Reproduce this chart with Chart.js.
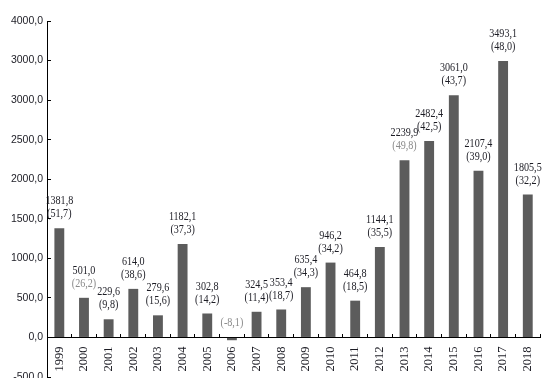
<!DOCTYPE html>
<html lang="es">
<head>
  <meta charset="UTF-8">
  <title>Serie anual</title>
  <script src="https://cdn.jsdelivr.net/npm/chart.js"></script>
  <style>
    html, body { margin: 0; padding: 0; background: #fff; }
    #wrap { width: 556px; height: 378px; }
  </style>
</head>
<body>
  <div id="wrap"><canvas id="myBarChart"></canvas></div>

  <script>
    const years = ['1999', '2000', '2001', '2002', '2003', '2004', '2005', '2006', '2007', '2008',
                   '2009', '2010', '2011', '2012', '2013', '2014', '2015', '2016', '2017', '2018'];
    const values = [1381.8, 501.0, 229.6, 614.0, 279.6, 1182.1, 302.8, -35, 324.5, 353.4,
                    635.4, 946.2, 464.8, 1144.1, 2239.9, 2482.4, 3061.0, 2107.4, 3493.1, 1805.5];
    const valueLabels = ['1381,8', '501,0', '229,6', '614,0', '279,6', '1182,1', '302,8', '', '324,5', '353,4',
                         '635,4', '946,2', '464,8', '1144,1', '2239,9', '2482,4', '3061,0', '2107,4', '3493,1', '1805,5'];
    const growthLabels = ['(51,7)', '(26,2)', '(9,8)', '(38,6)', '(15,6)', '(37,3)', '(14,2)', '(-8,1)', '(11,4)', '(18,7)',
                          '(34,3)', '(34,2)', '(18,5)', '(35,5)', '(49,8)', '(42,5)', '(43,7)', '(39,0)', '(48,0)', '(32,2)'];
    const growthGray = [false, true, false, false, false, false, false, true, false, false,
                        false, false, false, false, true, false, false, false, false, false];
    const yTickLabels = ['-500,0', '0,0', '500,0', '1000,0', '1500,0', '2000,0', '2500,0', '3000,0', '3000,0', '4000,0'];

    const darkText = '#1c1c24';
    const grayText = '#8a8a8a';

    // etiquetas de valor encima de cada barra (texto un poco estrecho)
    const barLabels = {
      id: 'barLabels',
      afterDatasetsDraw(chart) {
        const ctx = chart.ctx;
        const meta = chart.getDatasetMeta(0);
        const zero = chart.scales.y.getPixelForValue(0);
        ctx.save();
        ctx.font = '11.5px "Liberation Serif", serif';
        ctx.textAlign = 'center';
        ctx.textBaseline = 'middle';
        meta.data.forEach((bar, i) => {
          const top = values[i] >= 0 ? bar.y : zero;
          const draw = (txt, y, color) => {
            ctx.save();
            ctx.translate(bar.x, y);
            ctx.scale(0.88, 1);
            ctx.fillStyle = color;
            ctx.fillText(txt, 0, 0);
            ctx.restore();
          };
          draw(growthLabels[i], top - 14, growthGray[i] ? grayText : darkText);
          if (valueLabels[i]) draw(valueLabels[i], top - 27, darkText);
        });
        ctx.restore();
      }
    };

    const data = {
      labels: years,
      datasets: [{
        data: values,
        backgroundColor: '#5c5c5c',
        categoryPercentage: 1.0,
        barPercentage: 0.4
      }]
    };

    const config = {
      type: 'bar',
      data: data,
      options: {
        responsive: true,
        maintainAspectRatio: false,
        animation: false,
        layout: { padding: { top: 21, right: 9, bottom: 1, left: 0 } },
        plugins: {
          legend: { display: false },
          tooltip: { enabled: false }
        },
        scales: {
          x: {
            position: { y: 0 },
            afterFit(scale) { scale.height = 0; },
            grid: { drawOnChartArea: false, drawTicks: true, tickLength: -4, color: '#000' },
            border: { display: true, color: '#000', width: 1 },
            ticks: {
              color: darkText,
              font: { family: '"Liberation Serif", serif', size: 12.5 },
              minRotation: 90,
              maxRotation: 90,
              padding: 13,
              autoSkip: false
            }
          },
          y: {
            min: -500,
            max: 4000,
            afterFit(scale) {
              scale.width = 47;
              scale.paddingTop = 0;
              scale.paddingBottom = 0;
            },
            grid: { drawOnChartArea: false, drawTicks: true, tickLength: -4, color: '#000' },
            border: { display: true, color: '#000', width: 1 },
            ticks: {
              stepSize: 500,
              color: darkText,
              padding: 8,
              font: { family: '"Liberation Sans", sans-serif', size: 10.5 },
              callback: (v, i) => yTickLabels[i]
            }
          }
        }
      },
      plugins: [barLabels]
    };

    new Chart(document.getElementById('myBarChart'), config);
  </script>
</body>
</html>
